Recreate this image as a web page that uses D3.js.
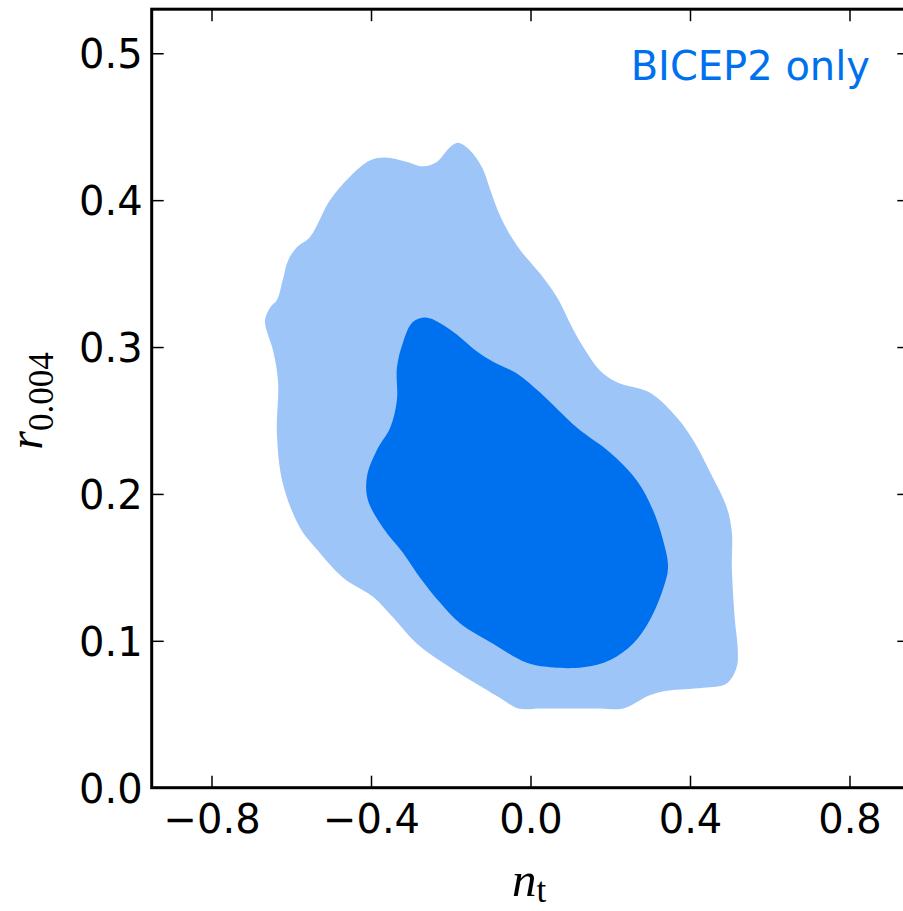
<!DOCTYPE html>
<html>
<head>
<meta charset="utf-8">
<script src="https://cdn.jsdelivr.net/npm/d3@7"></script>
<style>
  body { margin: 0; background: #fff; }
  text { font-family: "DejaVu Sans", sans-serif; }
</style>
</head>
<body>
<div id="chart"></div>
<script>
// 95% contour (outer) of n_t vs r_0.004
const outerNt = [-0.666, -0.653, -0.636, -0.621, -0.608, -0.586, -0.553, -0.503, -0.453, -0.403,
    -0.365, -0.310, -0.270, -0.235, -0.202, -0.182, -0.152, -0.121, -0.101, -0.082,
    -0.059, -0.026, 0.024, 0.066, 0.107, 0.137, 0.174, 0.217, 0.299, 0.367,
    0.407, 0.450, 0.492, 0.505, 0.505, 0.512, 0.520, 0.517, 0.492, 0.433,
    0.343, 0.299, 0.232, 0.174, 0.099, 0.024, -0.031, -0.076, -0.119, -0.202,
    -0.285, -0.345, -0.395, -0.470, -0.535, -0.578, -0.621, -0.636, -0.633, -0.646, -0.658];
const outerR = [0.318, 0.327, 0.332, 0.346, 0.359, 0.368, 0.375, 0.400, 0.416, 0.427,
    0.429, 0.426, 0.423, 0.426, 0.436, 0.439, 0.434, 0.422, 0.407, 0.393,
    0.380, 0.366, 0.350, 0.334, 0.312, 0.298, 0.284, 0.276, 0.269, 0.252,
    0.237, 0.215, 0.191, 0.174, 0.150, 0.116, 0.093, 0.082, 0.071, 0.068,
    0.066, 0.063, 0.054, 0.054, 0.054, 0.054, 0.054, 0.061, 0.068, 0.082,
    0.098, 0.116, 0.130, 0.143, 0.162, 0.177, 0.207, 0.241, 0.276, 0.298, 0.308];

// 68% contour (inner)
const innerNt = [-0.260, -0.202, -0.134, -0.094, -0.034, 0.024, 0.117, 0.200, 0.267, 0.307,
    0.332, 0.345, 0.332, 0.299, 0.257, 0.200, 0.132, 0.049, -0.009, -0.094,
    -0.177, -0.227, -0.277, -0.320, -0.370, -0.408, -0.410, -0.385, -0.352, -0.335,
    -0.335, -0.320, -0.295];
const innerR = [0.320, 0.312, 0.297, 0.290, 0.282, 0.269, 0.245, 0.228, 0.209, 0.189,
    0.169, 0.150, 0.135, 0.114, 0.098, 0.087, 0.082, 0.082, 0.085, 0.098,
    0.112, 0.126, 0.143, 0.160, 0.177, 0.196, 0.212, 0.230, 0.245, 0.264,
    0.286, 0.303, 0.317];

const xTicks = [-0.8, -0.4, 0.0, 0.4, 0.8];
const yTicks = [0.0, 0.1, 0.2, 0.3, 0.4, 0.5];
const xDomain = [-0.95, 0.95];
const yDomain = [0, 0.53];

// SVG dimensions
const width = 903;
const height = 911;
const plotLeft = 151.7;
const plotRight = 909.3;
const plotTop = 9.2;
const plotBottom = 787.7;
const tickLen = 12;

const lightBlue = "#9dc5f7";
const darkBlue = "#0071ee";

const svg = d3.select("#chart")
    .append("svg")
    .attr("width", width)
    .attr("height", height);

const x = d3.scaleLinear().domain(xDomain).range([plotLeft, plotRight]);
const y = d3.scaleLinear().domain(yDomain).range([plotBottom, plotTop]);

svg.append("clipPath")
    .attr("id", "plotClip")
    .append("rect")
    .attr("x", plotLeft)
    .attr("y", plotTop)
    .attr("width", plotRight - plotLeft)
    .attr("height", plotBottom - plotTop);

// build closed contours
const outer = outerNt.map((v, i) => [v, outerR[i]]);
const inner = innerNt.map((v, i) => [v, innerR[i]]);

const contourLine = d3.line()
    .x(d => x(d[0]))
    .y(d => y(d[1]))
    .curve(d3.curveCatmullRomClosed.alpha(0.5));

const g = svg.append("g").attr("clip-path", "url(#plotClip)");

g.append("path")
    .attr("d", contourLine(outer))
    .attr("fill", lightBlue);

g.append("path")
    .attr("d", contourLine(inner))
    .attr("fill", darkBlue);

// axes: ticks pointing inward on all sides
const fmt = d3.format(".1f");
const tickFmt = d => fmt(d).replace("-", "\u2212");

const bottomAxis = d3.axisBottom(x).tickValues(xTicks).tickSize(-tickLen).tickPadding(16.5).tickFormat(tickFmt);
const topAxis = d3.axisTop(x).tickValues(xTicks).tickSize(-tickLen).tickFormat("");
const leftAxis = d3.axisLeft(y).tickValues(yTicks).tickSize(-tickLen).tickPadding(9).tickFormat(tickFmt);
const rightAxis = d3.axisRight(y).tickValues(yTicks).tickSize(-tickLen).tickFormat("");

function styleAxis(sel) {
    sel.select(".domain").remove();
    sel.selectAll(".tick line").attr("stroke", "#000").attr("stroke-width", 1.5);
    sel.selectAll(".tick text")
        .attr("fill", "#000")
        .style("font-family", "'DejaVu Sans', sans-serif")
        .style("font-size", "40px");
}

svg.append("g").attr("transform", `translate(0,${plotBottom})`).call(bottomAxis).call(styleAxis)
    .selectAll(".tick text").attr("dy", "0.71em");
svg.append("g").attr("transform", `translate(0,${plotTop})`).call(topAxis).call(styleAxis);
svg.append("g").attr("transform", `translate(${plotLeft},0)`).call(leftAxis).call(styleAxis)
    .selectAll(".tick text").attr("dy", "0.36em");
svg.append("g").attr("transform", `translate(${plotRight},0)`).call(rightAxis).call(styleAxis);

// frame
svg.append("rect")
    .attr("x", plotLeft)
    .attr("y", plotTop)
    .attr("width", plotRight - plotLeft)
    .attr("height", plotBottom - plotTop)
    .attr("fill", "none")
    .attr("stroke", "#000")
    .attr("stroke-width", 3);

// legend text
svg.append("text")
    .attr("x", 870)
    .attr("y", 80)
    .attr("text-anchor", "end")
    .attr("fill", darkBlue)
    .style("font-size", "40px")
    .text("BICEP2 only");

// axis labels (math style)
const xLabel = svg.append("text")
    .attr("x", 529)
    .attr("y", 896)
    .attr("text-anchor", "middle")
    .style("font-family", "'Liberation Serif', serif")
    .style("font-size", "49px");
xLabel.append("tspan").style("font-style", "italic").text("n");
xLabel.append("tspan").attr("dy", 6).style("font-size", "35px").text("t");

const yLabel = svg.append("text")
    .attr("transform", "translate(42,401) rotate(-90)")
    .attr("text-anchor", "middle")
    .style("font-family", "'Liberation Serif', serif")
    .style("font-size", "48px");
yLabel.append("tspan").style("font-style", "italic").text("r");
yLabel.append("tspan").attr("dy", 11).style("font-size", "35px").text("0.004");
</script>
</body>
</html>
